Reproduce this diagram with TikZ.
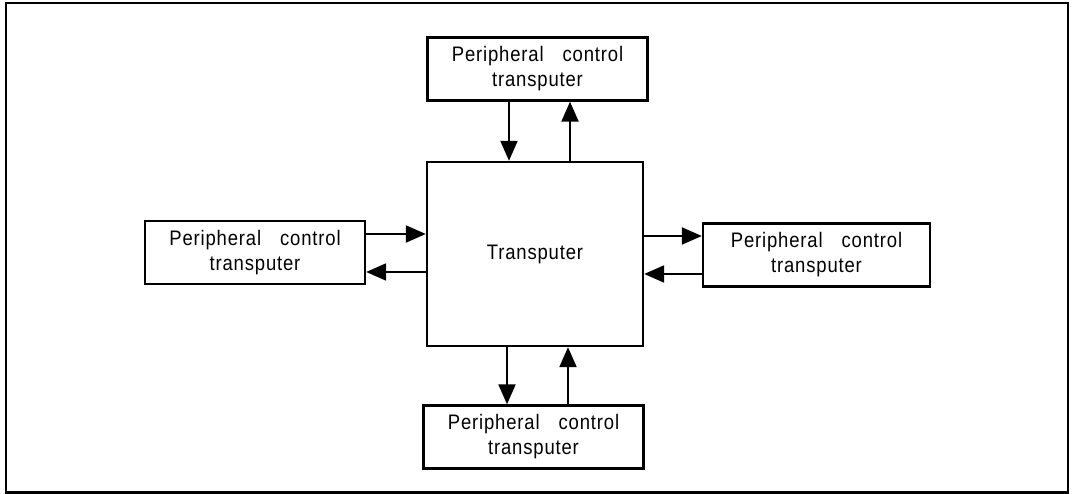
\documentclass[tikz,border=0pt]{standalone}
\usepackage{fontspec}
\setmainfont{Liberation Sans}[LetterSpace=4, FakeStretch=0.88]
\usepackage{tikz}
\usetikzlibrary{arrows.meta}

\newcommand{\pcttext}{Peripheral\hspace{19pt}control\\transputer}

\begin{document}
\begin{tikzpicture}[x=1pt, y=1pt,
    box/.style={draw, line width=2.4pt, fill=white, align=center,
        font=\fontsize{21}{25}\selectfont, inner sep=0pt},
    pct/.style={box, minimum width=220pt, minimum height=63pt},
    link/.style={line width=2.2pt, -{Triangle[length=20pt, width=17pt]}}]
    \useasboundingbox (0, 0) rectangle (1076, 494);
    \draw[line width=2.4pt] (6, 1.5) rectangle (1068, 491); % outer frame

    \node[box, minimum width=216pt, minimum height=184pt] (cpu) at (535, 240) {Transputer};
    \node[pct] (top) at (537.5, 425) {\pcttext};
    \node[pct] (bottom) at (533.5, 57) {\pcttext};
    \node[pct] (left) at (255, 241.5) {\pcttext};
    \node[pct, minimum width=227pt] (right) at (816.5, 239) {\pcttext};

    \draw[link] ([xshift=-26pt]cpu.north |- top.south) -- ([xshift=-26pt]cpu.north);
    \draw[link] ([xshift=35pt]cpu.north) -- ([xshift=35pt]cpu.north |- top.south);
    \draw[link] ([xshift=-28pt]cpu.south) -- ([xshift=-28pt]cpu.south |- bottom.north);
    \draw[link] ([xshift=33pt]cpu.south |- bottom.north) -- ([xshift=33pt]cpu.south);
    \draw[link] ([yshift=20pt]cpu.west -| left.east) -- ([yshift=20pt]cpu.west);
    \draw[link] ([yshift=-18pt]cpu.west) -- ([yshift=-18pt]cpu.west -| left.east);
    \draw[link] ([yshift=18pt]cpu.east) -- ([yshift=18pt]cpu.east -| right.west);
    \draw[link] ([yshift=-20pt]cpu.east -| right.west) -- ([yshift=-20pt]cpu.east);
\end{tikzpicture}
\end{document}
